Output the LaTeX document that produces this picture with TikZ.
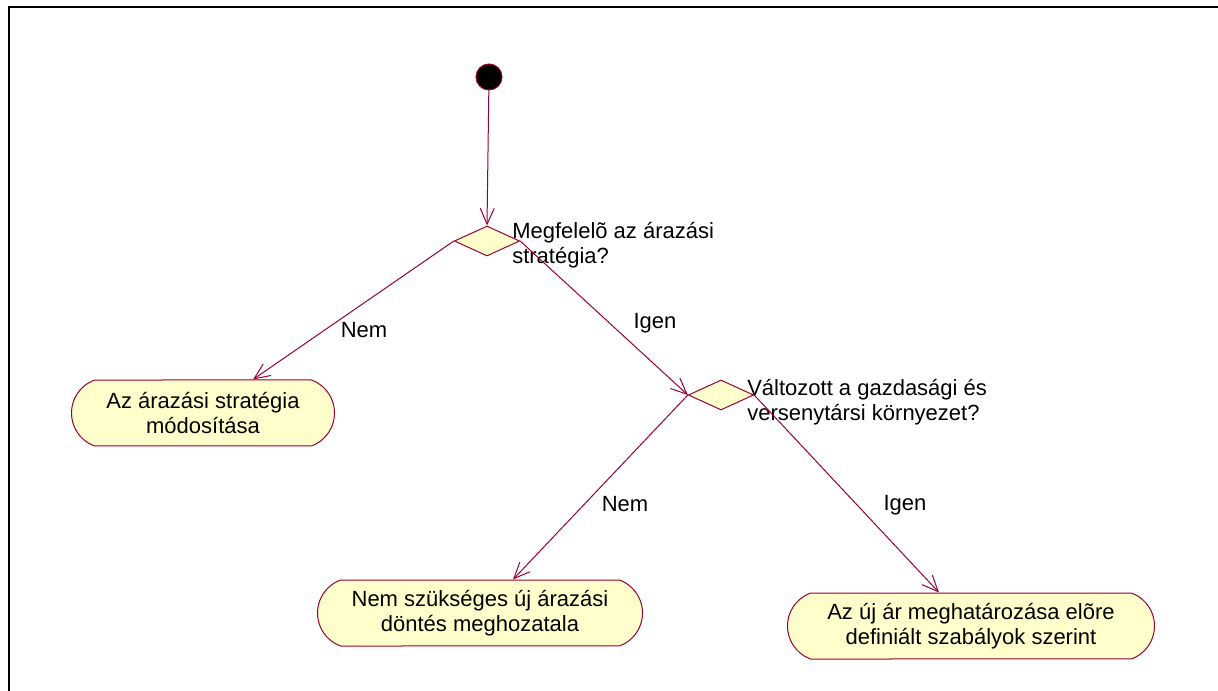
\documentclass[tikz,border=0pt]{standalone}
\usepackage{fontspec}
\setmainfont{Liberation Sans}
\usetikzlibrary{shapes.geometric,shapes.misc,arrows.meta}
\definecolor{umlred}{RGB}{153,0,51}
\definecolor{umlfill}{RGB}{255,255,204}
\begin{document}
\begin{tikzpicture}[x=0.75pt,y=-0.75pt,
  every node/.style={font=\fontsize{16.5}{18.5}\selectfont},
  actbox/.style={rounded rectangle, rounded rectangle arc length=140, draw=umlred, fill=umlfill, line width=0.75pt, minimum height=49.5pt, inner sep=0pt, align=center},
  decision/.style={diamond, draw=umlred, fill=umlfill, line width=0.75pt, minimum width=49pt, minimum height=22.5pt, inner sep=0pt},
  startnode/.style={circle, draw=umlred, fill=black, line width=0.75pt, minimum size=19.5pt, inner sep=0pt},
  flow/.style={draw=umlred, line width=0.75pt, -{Straight Barb[length=12pt,width=10.5pt,line width=0.75pt]}},
  qlabel/.style={anchor=west, align=left, inner sep=0pt},
  glabel/.style={inner sep=0pt}
]
\useasboundingbox (0,0) rectangle (1218,691);
\draw[line width=2pt] (9,692) -- (9,7) -- (1219,7);

\node[startnode] (start) at (489,77) {};
\node[decision] (d1) at (487,241) {};
\node[decision] (d2) at (721,395) {};
\node[actbox, minimum width=197.25pt] (a1) at (203,413) {Az árazási stratégia\\módosítása};
\node[actbox, minimum width=243.75pt] (a2) at (480,613) {Nem szükséges új árazási\\döntés meghozatala};
\node[actbox, minimum width=275.25pt] (a3) at (971,626) {Az új ár meghatározása elõre\\definiált szabályok szerint};

\node[qlabel] (q1) at (512,245) {Megfelelõ az árazási\\stratégia?};
\node[qlabel] (q2) at (747,402) {Változott a gazdasági és\\versenytársi környezet?};

\draw[flow] (start) -- (d1.north);
\draw[flow] (d1.west) -- ([xshift=37.5pt]a1.north);
\draw[flow] (d1.east) -- (d2.west);
\draw[flow] (d2.west) -- ([xshift=24.75pt]a2.north);
\draw[flow] (d2.east) -- ([xshift=-24pt]a3.north);

\node[glabel] (l1) at (364,330) {Nem};
\node[glabel] (l2) at (655,323) {Igen};
\node[glabel] (l3) at (625,504) {Nem};
\node[glabel] (l4) at (905,505) {Igen};
\end{tikzpicture}
\end{document}
